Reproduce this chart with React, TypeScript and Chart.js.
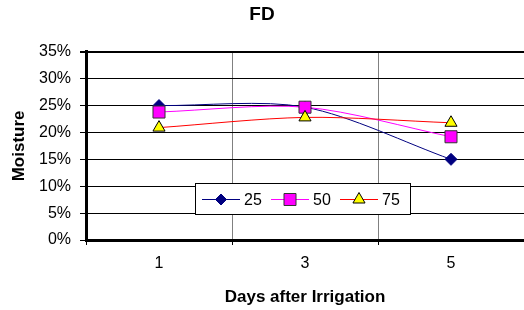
import React, { useEffect, useRef } from 'react';
import { Chart, registerables } from 'chart.js';

Chart.register(...registerables);

const chartTitle = 'FD';
const xTitle = 'Days after Irrigation';
const yTitle = 'Moisture';
const days = ['1', '3', '5'];
const seriesNames = ['25', '50', '75'];
const moisture25 = [25.0, 24.7, 15.0];
const moisture50 = [23.8, 24.7, 19.2];
const moisture75 = [20.9, 22.8, 21.8];
const yMin = 0;
const yMax = 35;
const yStep = 5;

const FONT = "'Liberation Sans', Arial, sans-serif";

type Style = { line: string; fill: string; border: string; shape: string };
const styles: Style[] = [
  { line: '#000080', fill: '#000080', border: '#000080', shape: 'diamond' },
  { line: '#FF00FF', fill: '#FF00FF', border: '#333333', shape: 'square' },
  { line: '#FF0000', fill: '#FFFF00', border: '#000000', shape: 'triangle' },
];

function drawMarker(ctx: CanvasRenderingContext2D, shape: string, x: number, y: number, fill: string, border: string) {
  ctx.save();
  ctx.beginPath();
  if (shape === 'diamond') {
    const r = 5.5;
    ctx.moveTo(x, y - r);
    ctx.lineTo(x + r, y);
    ctx.lineTo(x, y + r);
    ctx.lineTo(x - r, y);
    ctx.closePath();
  } else if (shape === 'square') {
    ctx.rect(x - 6, y - 6, 12, 12);
  } else {
    const r = 7;
    ctx.moveTo(x, y - r);
    ctx.lineTo(x + r * 0.866, y + r / 2);
    ctx.lineTo(x - r * 0.866, y + r / 2);
    ctx.closePath();
  }
  ctx.fillStyle = fill;
  ctx.fill();
  ctx.lineWidth = 1;
  ctx.strokeStyle = border;
  ctx.stroke();
  ctx.restore();
}

const legendPlugin = {
  id: 'insideLegend',
  afterDraw(chart: any) {
    const ctx: CanvasRenderingContext2D = chart.ctx;
    const bx = 195.5, by = 183.5, bw = 215, bh = 31;
    ctx.save();
    ctx.fillStyle = '#ffffff';
    ctx.fillRect(bx, by, bw, bh);
    ctx.strokeStyle = '#000000';
    ctx.lineWidth = 1;
    ctx.strokeRect(bx, by, bw, bh);
    const cy = 199.5;
    seriesNames.forEach((name, i) => {
      const st = styles[i];
      const x0 = 202 + i * 69;
      ctx.beginPath();
      ctx.moveTo(x0, cy);
      ctx.lineTo(x0 + 38, cy);
      ctx.strokeStyle = st.line;
      ctx.lineWidth = 1;
      ctx.stroke();
      drawMarker(ctx, st.shape, x0 + 19, cy, st.fill, st.border);
      ctx.fillStyle = '#000000';
      ctx.font = `16px ${FONT}`;
      ctx.textBaseline = 'middle';
      ctx.textAlign = 'left';
      ctx.fillText(name, x0 + 42, cy + 1);
    });
    ctx.restore();
  },
};

export default function App() {
  const ref = useRef<HTMLCanvasElement | null>(null);
  useEffect(() => {
    document.body.style.margin = '0';
    if (!ref.current) return;
    const data = [moisture25, moisture50, moisture75];
    const pointStyles = ['rectRot', 'rect', 'triangle'];
    const radii = [6, 8.5, 7];
    const chart = new Chart(ref.current, {
      type: 'line',
      data: {
        labels: days,
        datasets: seriesNames.map((name, i) => ({
          label: name,
          data: data[i],
          borderColor: styles[i].line,
          borderWidth: 1,
          backgroundColor: styles[i].fill,
          pointBackgroundColor: styles[i].fill,
          pointBorderColor: styles[i].border,
          pointBorderWidth: 1,
          pointStyle: pointStyles[i],
          pointRadius: radii[i],
          tension: 0.3,
          fill: false,
          clip: false,
          order: 3 - i,
        })),
      },
      options: {
        animation: false,
        responsive: false,
        maintainAspectRatio: false,
        layout: { padding: 0, autoPadding: false },
        plugins: {
          legend: { display: false },
          tooltip: { enabled: false },
          title: {
            display: true,
            text: chartTitle,
            color: '#000',
            font: { family: FONT, size: 19, weight: 'bold' },
            padding: { top: 3, bottom: 26 },
          },
        },
        scales: {
          x: {
            offset: true,
            grid: {
              offset: true,
              color: '#808080',
              lineWidth: 1,
              tickLength: 5,
              tickColor: '#000',
            },
            border: { color: '#000', width: 3 },
            ticks: {
              color: '#000',
              font: { family: FONT, size: 16 },
              padding: 9,
              maxRotation: 0,
            },
            title: {
              display: true,
              text: xTitle,
              color: '#000',
              font: { family: FONT, size: 17, weight: 'bold' },
              padding: { top: 0, bottom: 2 },
            },
            afterFit(scale: any) {
              scale.height = 70;
              scale.paddingLeft = 0;
              scale.paddingRight = 0;
            },
          },
          y: {
            min: yMin,
            max: yMax,
            ticks: {
              stepSize: yStep,
              color: '#000',
              font: { family: FONT, size: 16 },
              padding: 9,
              callback: (v: any) => `${v}%`,
            },
            grid: {
              color: '#000',
              lineWidth: (c: any) => (c.tick && c.tick.value === yMax ? 2 : 1),
              tickLength: 6,
            },
            border: { color: '#000', width: 3 },
            title: {
              display: true,
              text: yTitle,
              color: '#000',
              font: { family: FONT, size: 17, weight: 'bold' },
              padding: { top: 9, bottom: 0 },
            },
            afterFit(scale: any) {
              scale.width = 86;
            },
          },
        },
      },
      plugins: [legendPlugin],
    } as any);
    return () => chart.destroy();
  }, []);
  return (
    <div style={{ position: 'absolute', left: 0, top: 0, width: 524, height: 310 }}>
      <canvas ref={ref} width={524} height={310} style={{ width: 524, height: 310 }} />
    </div>
  );
}
